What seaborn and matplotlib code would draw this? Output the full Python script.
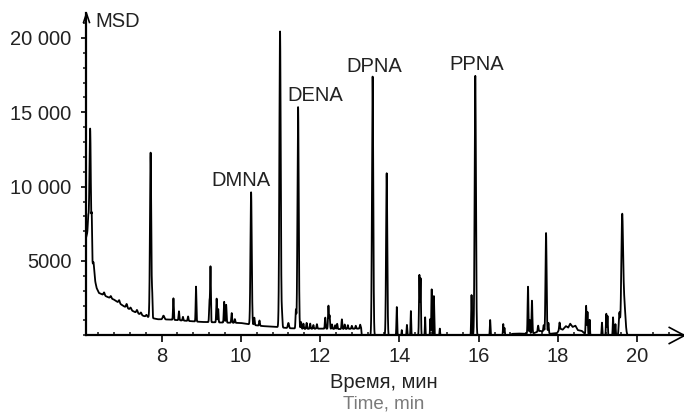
import numpy as np
import pandas as pd
import matplotlib
matplotlib.use("Agg")
import matplotlib.pyplot as plt
from matplotlib.path import Path
from matplotlib.ticker import MultipleLocator, FixedLocator, FuncFormatter
import seaborn as sns

# ---- chromatogram data (retention time in min, MSD response) ----
# slowly varying background of the detector signal
base_time = [6.10, 6.14, 6.17, 6.21, 6.25, 6.27, 6.30, 6.33, 6.36, 6.42, 6.62, 6.80,
             7.04, 7.30, 7.55, 7.70, 7.90, 8.20, 8.50, 9.00, 9.50, 10.00, 10.30, 10.55,
             10.90, 11.20, 11.60, 12.00, 12.50, 13.00, 13.035, 13.05, 16.75, 16.85, 17.00,
             17.15, 17.40, 17.55, 17.80, 17.98, 18.05, 18.12, 18.20, 18.26, 18.31, 18.37,
             18.44, 18.50, 18.60, 18.68, 18.90, 20.00]
base_level = [6600, 7000, 7600, 6800, 5000, 4700, 4300, 3600, 3200, 2850, 2600, 2400,
              1970, 1600, 1300, 1200, 1080, 1060, 1000, 900, 860, 830, 700, 620,
              560, 480, 430, 450, 420, 450, 500, 0, 0, 100, 120,
              100, 150, 300, 100, 150, 450, 380, 620, 520, 780, 560,
              650, 350, 300, 100, 0, 0]

# resolved peaks: apex time, height above background, peak width (sigma, min)
peak_time = [6.15, 6.200, 6.240, 6.285, 6.55, 6.72, 6.93, 7.12, 7.22, 7.38, 7.48, 7.62,
             7.725, 7.765, 8.05, 8.30, 8.44, 8.54, 8.67, 8.87, 9.21, 9.235, 9.39, 9.43,
             9.58, 9.63, 9.77, 9.85, 10.26, 10.34, 10.47, 10.99, 11.04, 11.20, 11.39,
             11.445, 11.52, 11.58, 11.66, 11.75, 11.83, 11.92, 12.13, 12.21, 12.24, 12.30,
             12.38, 12.43, 12.55, 12.62, 12.70, 12.80, 12.90, 13.01,
             13.325, 13.68, 13.935, 14.06, 14.19, 14.29, 14.505, 14.535, 14.65, 14.78,
             14.815, 14.87, 15.02, 15.82, 15.915, 16.29, 16.62, 16.65,
             17.245, 17.29, 17.345, 17.50, 17.64, 17.70, 17.76, 18.04, 18.71, 18.745,
             18.80, 19.11, 19.22, 19.25, 19.39, 19.45, 19.55, 19.62, 19.67]
peak_height = [800, 6900, 2400, 400, 200, 150, 200, 250, 150, 200, 150, 120,
               11100, 1400, 250, 1450, 600, 250, 300, 2350, 1400, 3700, 1600, 900,
               1400, 1200, 650, 250, 8900, 500, 350, 19900, 900, 350, 1250,
               14900, 450, 350, 400, 350, 250, 300, 750, 1550, 900, 300,
               250, 350, 650, 300, 250, 200, 200, 250,
               17400, 10900, 1900, 350, 700, 1630, 4050, 3800, 1210, 1100,
               3090, 2640, 450, 2710, 17450, 1030, 760, 500,
               3150, 900, 2190, 400, 450, 6700, 700, 450, 1900, 1500,
               1000, 850, 1450, 1300, 1210, 750, 1500, 7600, 2200]
peak_sigma = [0.010, 0.016, 0.008, 0.010, 0.015, 0.015, 0.015, 0.015, 0.015, 0.015, 0.015, 0.015,
              0.016, 0.008, 0.020, 0.010, 0.010, 0.010, 0.010, 0.009, 0.010, 0.009, 0.010, 0.008,
              0.010, 0.010, 0.010, 0.010, 0.016, 0.010, 0.010, 0.017, 0.010, 0.015, 0.010,
              0.016, 0.010, 0.010, 0.010, 0.010, 0.010, 0.010, 0.010, 0.010, 0.010, 0.010,
              0.010, 0.010, 0.010, 0.010, 0.010, 0.010, 0.010, 0.010,
              0.016, 0.015, 0.009, 0.006, 0.008, 0.008, 0.010, 0.009, 0.007, 0.007,
              0.009, 0.009, 0.007, 0.009, 0.016, 0.008, 0.008, 0.008,
              0.010, 0.008, 0.010, 0.010, 0.010, 0.014, 0.010, 0.010, 0.010, 0.009,
              0.007, 0.008, 0.009, 0.008, 0.008, 0.008, 0.015, 0.022, 0.030]

# identified compounds
compound_name = ["DMNA", "DENA", "DPNA", "PPNA"]
compound_time = [10.26, 11.445, 13.325, 15.915]
compound_label_offset = [(-7, 1.5), (12, 1.5), (1, 0.8), (1, 1.5)]  # points

y_ticks = [5000, 10000, 15000, 20000]
x_ticks = [8, 10, 12, 14, 16, 18, 20]

# ---- build the detector trace ----
t = np.arange(6.10, 20.0, 0.001)
signal = np.interp(t, base_time, base_level)
for c, h, s in zip(peak_time, peak_height, peak_sigma):
    signal = signal + h * np.exp(-0.5 * ((t - c) / s) ** 2)
trace = pd.DataFrame({"time": t, "signal": signal})

# ---- figure ----
sns.set_style("ticks")
plt.rcParams["font.family"] = ["Liberation Sans", "DejaVu Sans"]
text_color = "#222222"

W, H = 684, 412
fig = plt.figure(figsize=(W / 100, H / 100), dpi=100)
ax = fig.add_axes([86 / W, (H - 335.3) / H, (W - 86) / W, (335.3 - 13) / H])

sns.lineplot(data=trace, x="time", y="signal", color="black", linewidth=1.3,
             estimator=None, errorbar=None, sort=False, ax=ax)

ax.set_xlim(6.095, 21.18)
ax.set_ylim(0, 21680)

for side in ("top", "right"):
    ax.spines[side].set_visible(False)
for side in ("left", "bottom"):
    ax.spines[side].set_linewidth(1.6)
    ax.spines[side].set_color("black")

ax.xaxis.set_major_locator(FixedLocator(x_ticks))
ax.xaxis.set_minor_locator(MultipleLocator(0.4))
ax.yaxis.set_major_locator(FixedLocator(y_ticks))
ax.yaxis.set_minor_locator(MultipleLocator(1000))
ax.yaxis.set_major_formatter(FuncFormatter(
    lambda v, _: f"{int(v):,}".replace(",", " ") if v >= 10000 else f"{int(v)}"))
ax.tick_params(axis="x", which="major", direction="out", length=5, width=1.4,
               pad=3.5, labelsize=14.5, labelcolor=text_color)
ax.tick_params(axis="x", which="minor", direction="in", length=2.5, width=1.2)
ax.tick_params(axis="y", which="major", direction="out", length=3.5, width=1.4,
               pad=7, labelsize=14.5, labelcolor=text_color)
ax.tick_params(axis="y", which="minor", direction="out", length=2, width=1.2)
ax.set_xlabel("")
ax.set_ylabel("")

# open arrowheads at the ends of both axes
x_head = Path([(-1, 0.53), (0, 0), (-1, -0.53)], [Path.MOVETO, Path.LINETO, Path.LINETO])
y_head = Path([(-0.33, -1), (0, 0), (0.33, -1)], [Path.MOVETO, Path.LINETO, Path.LINETO])
ax.plot([1], [0], transform=ax.transAxes, marker=x_head, markersize=23,
        markerfacecolor="none", markeredgecolor="black", markeredgewidth=1.2,
        clip_on=False, linestyle="none")
ax.plot([0], [1], transform=ax.transAxes, marker=y_head, markersize=14,
        markerfacecolor="none", markeredgecolor="black", markeredgewidth=1.2,
        clip_on=False, linestyle="none")

ax.annotate("MSD", xy=(0, 1), xycoords="axes fraction", xytext=(6.5, -5.8),
            textcoords="offset points", ha="left", va="center",
            fontsize=14.5, color=text_color)

# compound labels above their peaks
for name, ct, (dx, dy) in zip(compound_name, compound_time, compound_label_offset):
    apex = trace.loc[(trace["time"] - ct).abs().idxmin(), "signal"]
    ax.annotate(name, xy=(ct, apex), xytext=(dx, dy), textcoords="offset points",
                ha="center", va="bottom", fontsize=14.5, color=text_color)

fig.text(384 / W, (H - 383) / H, "Время, мин", ha="center", va="center",
         fontsize=14.5, color=text_color)
fig.text(384 / W, (H - 404) / H, "Time, min", ha="center", va="center",
         fontsize=13.5, color="#7a7a7a")

fig.savefig("out.png", dpi=100)
